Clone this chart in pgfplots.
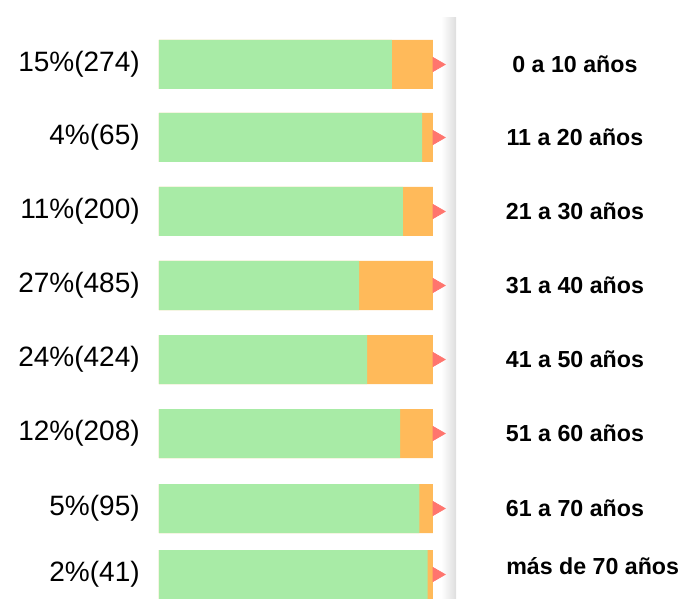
\documentclass[border=0pt]{standalone}
\usepackage{pgfplots}
\pgfplotsset{compat=1.18}
\usepackage{pgfplotstable}
\usepackage{fontspec}
\setmainfont{Liberation Sans}
\definecolor{cgreen}{RGB}{168,235,166}
\definecolor{corange}{RGB}{255,186,90}
\definecolor{cred}{RGB}{255,117,110}
\tikzset{
  leftlab/.style={anchor=east, font=\fontsize{14}{16}\selectfont, inner sep=0pt},
  rightlab/.style={anchor=center, font=\fontsize{11.6}{14}\selectfont\bfseries, inner sep=0pt},
}
\pgfplotstableread{
y g o t
64.5 85 15 100
137.5 96 4 100
211.5 89 11 100
285.5 73 27 100
359.5 76 24 100
433.5 88 12 100
508.5 95 5 100
574.5 98 2 100
}\data
\pgfplotstableread{
y x
64.5 101.5
137.5 101.5
211.5 101.5
285.5 101.5
359.5 101.5
433.5 101.5
508.5 101.5
574.5 101.5
}\tri
\begin{document}
\begin{tikzpicture}
\begin{axis}[
  scale only axis,
  width=137pt, height=299.5pt,
  xmin=0, xmax=100, ymin=0, ymax=599,
  y dir=reverse,
  axis lines=none, ticks=none,
  clip=false,
]
\fill[left color=white, right color=black!13, draw=none] (axis cs:103,18) rectangle (axis cs:108.4,599);
\addplot[only marks, mark=triangle*, mark size=4pt, color=cred, mark options={rotate=-90}] table[x=x,y=y] {\tri};
\addplot[xbar, bar width=49, bar shift=0pt, fill=corange, draw=none] table[x=t,y=y] {\data};
\addplot[xbar, bar width=49, bar shift=0pt, fill=cgreen, draw=none] table[x=g,y=y] {\data};
\foreach \yy/\lab in {64.5/15\%(274), 137.5/4\%(65), 211.5/11\%(200), 285.5/27\%(485), 359.5/24\%(424), 433.5/12\%(208), 508.5/5\%(95), 574.5/2\%(41)} {
  \edef\tmp{\noexpand\node[leftlab] at (axis cs:-6.9,\yy) {\lab};}
  \tmp
}
\foreach \yy/\lab in {64.5/0 a 10 años, 137.5/11 a 20 años, 211.5/21 a 30 años, 285.5/31 a 40 años, 359.5/41 a 50 años, 433.5/51 a 60 años, 508.5/61 a 70 años} {
  \edef\tmp{\noexpand\node[rightlab] at (axis cs:151.8,\yy) {\lab};}
  \tmp
}
\node[rightlab, anchor=west] at (axis cs:126.6,566) {más de 70 años};
\coordinate (BL) at (axis cs:-58.03,599);
\coordinate (TR) at (axis cs:190.51,0);
\end{axis}
\pgfresetboundingbox
\useasboundingbox (BL) rectangle (TR);
\end{tikzpicture}
\end{document}
